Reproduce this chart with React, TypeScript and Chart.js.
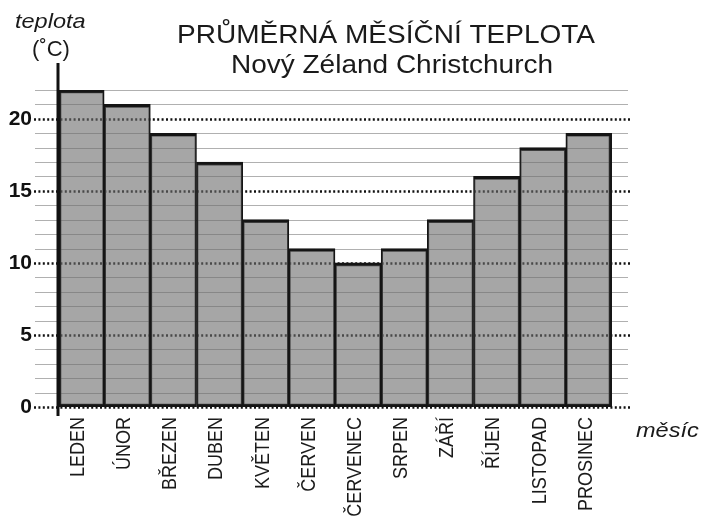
import React, { useEffect, useRef } from "react";
import { Chart, registerables } from "chart.js";

Chart.register(...registerables);

const months = ["LEDEN", "ÚNOR", "BŘEZEN", "DUBEN", "KVĚTEN", "ČERVEN", "ČERVENEC", "SRPEN", "ZÁŘÍ", "ŘÍJEN", "LISTOPAD", "PROSINEC"];
const temps = [22, 21, 19, 17, 13, 11, 10, 11, 13, 16, 18, 19];
const yMin = 0;
const yMax = 22;
const majorStep = 5;
const titleLine1 = "PRŮMĚRNÁ MĚSÍČNÍ TEPLOTA";
const titleLine2 = "Nový Zéland Christchurch";
const yAxisTitle = "teplota";
const yAxisUnit = "(˚C)";
const xAxisTitle = "měsíc";

const FONT = "'Liberation Sans', Arial, sans-serif";

const decorPlugin = {
  id: "decor",
  beforeDatasetsDraw(chart: any) {
    const ctx = chart.ctx;
    const y = chart.scales.y;
    const area = chart.chartArea;
    ctx.save();
    for (let v = yMin; v <= yMax; v++) {
      const py = Math.round(y.getPixelForValue(v)) + 0.5;
      ctx.beginPath();
      if (v % majorStep === 0) {
        ctx.strokeStyle = "#111";
        ctx.lineWidth = 2.5;
        ctx.setLineDash([2, 2.4]);
        ctx.moveTo(34, py);
        ctx.lineTo(area.right + 18, py);
      } else {
        ctx.strokeStyle = "#b0b0b0";
        ctx.lineWidth = 1.2;
        ctx.setLineDash([]);
        ctx.moveTo(35, py);
        ctx.lineTo(area.right + 16, py);
      }
      ctx.stroke();
    }
    ctx.restore();
  },
  afterDraw(chart: any) {
    const ctx = chart.ctx;
    const area = chart.chartArea;
    const xs = chart.scales.x;
    ctx.save();
    // y axis line
    ctx.beginPath();
    ctx.strokeStyle = "#111";
    ctx.lineWidth = 3;
    ctx.setLineDash([]);
    ctx.moveTo(area.left, 63);
    ctx.lineTo(area.left, area.bottom + 9);
    ctx.stroke();

    ctx.fillStyle = "#1a1a1a";
    // category labels, rotated, positioned by the x scale
    months.forEach((m, i) => {
      const px = xs.getPixelForValue(i) - 3;
      ctx.save();
      ctx.font = `18px ${FONT}`;
      ctx.textAlign = "right";
      ctx.textBaseline = "middle";
      ctx.translate(px, area.bottom + 10);
      ctx.rotate(-Math.PI / 2);
      ctx.scale(1, 1.16);
      ctx.fillText(m, 0, 0);
      ctx.restore();
    });

    const stretched = (text: string, font: string, x: number, yy: number, align: CanvasTextAlign, sx: number) => {
      ctx.save();
      ctx.font = font;
      ctx.textAlign = align;
      ctx.textBaseline = "alphabetic";
      ctx.translate(x, yy);
      ctx.scale(sx, 1);
      ctx.fillText(text, 0, 0);
      ctx.restore();
    };
    stretched(titleLine1, `25px ${FONT}`, 386, 43, "center", 1.12);
    stretched(titleLine2, `25px ${FONT}`, 392, 73, "center", 1.12);
    stretched(yAxisTitle, `italic 21px ${FONT}`, 15, 28, "left", 1.12);
    stretched(yAxisUnit, `22px ${FONT}`, 51, 56, "center", 1.0);
    stretched(xAxisTitle, `italic 21px ${FONT}`, 636, 437, "left", 1.12);
    ctx.restore();
  },
};

export default function App() {
  const ref = useRef<HTMLCanvasElement | null>(null);
  useEffect(() => {
    if (!ref.current) return;
    const chart = new Chart(ref.current, {
      type: "bar",
      data: {
        labels: months,
        datasets: [
          {
            data: temps,
            backgroundColor: "rgba(110,110,110,0.61)",
            borderColor: "#151515",
            borderWidth: ((c: any) => ({
              top: 3,
              bottom: 3,
              left: c.dataIndex === 0 ? 3 : 1.5,
              right: c.dataIndex === months.length - 1 ? 3 : 1.5,
            })) as any,
            borderSkipped: false,
            barPercentage: 1,
            categoryPercentage: 1,
          },
        ],
      },
      options: {
        responsive: false,
        animation: false,
        layout: { padding: { top: 90, right: 90, left: 0, bottom: 0 } },
        plugins: { legend: { display: false }, tooltip: { enabled: false }, title: { display: false } },
        scales: {
          x: {
            grid: { display: false, drawTicks: false },
            border: { display: false },
            ticks: { display: false },
            afterFit: (s: any) => {
              s.height = 110;
            },
          },
          y: {
            min: yMin,
            max: yMax,
            grid: { display: false, drawTicks: false },
            border: { display: false },
            ticks: {
              stepSize: majorStep,
              includeBounds: false,
              padding: 26,
              color: "#111",
              font: { family: FONT, size: 21, weight: "bold" },
            },
            afterFit: (s: any) => {
              s.width = 58;
            },
          },
        },
      },
      plugins: [decorPlugin],
    });
    return () => chart.destroy();
  }, []);
  return (
    <div style={{ position: "fixed", left: 0, top: 0, width: 702, height: 517, background: "#fff" }}>
      <canvas ref={ref} width={702} height={517} style={{ width: 702, height: 517, display: "block" }} />
    </div>
  );
}
